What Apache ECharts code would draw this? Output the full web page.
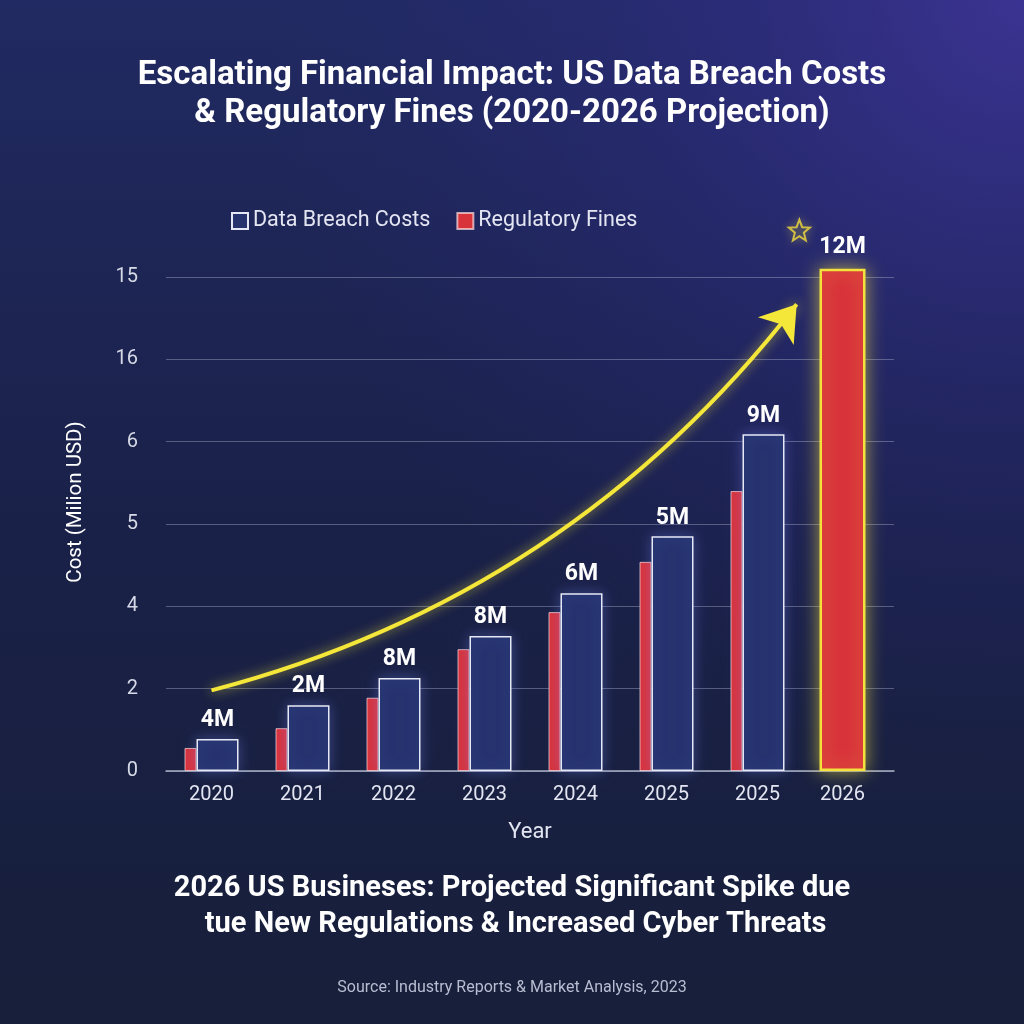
<!DOCTYPE html>
<html>
<head>
<meta charset="utf-8">
<script src="https://cdn.jsdelivr.net/npm/echarts@6/dist/echarts.min.js"></script>
<style>
  html, body { margin: 0; padding: 0; background: #181f3a; }
  #chart { width: 1024px; height: 1024px; }
</style>
</head>
<body>
<div id="chart"></div>
<script>
// categories as printed on the x axis (2025 appears twice in the source)
const years = ['2020', '2021', '2022', '2023', '2024', '2025', '2025', '2026'];
// y axis tick labels, bottom to top, as printed (evenly spaced ticks)
const yTickLabels = ['0', '2', '4', '5', '6', '16', '15'];
// bar heights, in tick units of that axis
const breachCosts = [0.39, 0.80, 1.13, 1.64, 2.16, 2.85, 4.09, '-'];
const breachLabels = ['4M', '2M', '8M', '8M', '6M', '5M', '9M', ''];
const fines = [0.28, 0.52, 0.89, 1.48, 1.93, 2.54, 3.40, '-'];
const spike2026 = ['-', '-', '-', '-', '-', '-', '-', 6.10];
const spikeLabel = '12M';
// trend arrow, from / to (category index, tick units)
const trendStart = [0, 0.98];
const trendEnd = [6.43, 5.67];
const starPos = [6.46, 6.57];

const starPath = 'path://M12,1 L14.9,8.6 L23,9 L16.7,14.1 L18.8,22 L12,17.6 L5.2,22 L7.3,14.1 L1,9 L9.1,8.6 Z';

let chart = echarts.init(document.getElementById('chart'));

const textColor = '#e3e6f2';

chart.setOption({
  backgroundColor: {
    type: 'linear', x: 0, y: 0, x2: 0, y2: 1,
    colorStops: [
      { offset: 0, color: '#212a62' },
      { offset: 0.5, color: '#1a2149' },
      { offset: 1, color: '#171f3a' }
    ]
  },
  graphic: [
    {
      // purple glow in the top right corner
      type: 'rect',
      left: 0, top: 0, z: -10, silent: true,
      shape: { width: 1024, height: 1024 },
      style: {
        fill: {
          type: 'radial', x: 1, y: 0, r: 0.75,
          colorStops: [
            { offset: 0, color: 'rgba(62,52,150,0.9)' },
            { offset: 0.5, color: 'rgba(50,45,140,0.35)' },
            { offset: 1, color: 'rgba(40,40,120,0)' }
          ]
        }
      }
    }
  ],
  textStyle: { fontFamily: 'Roboto' },
  title: [
    {
      text: 'Escalating Financial Impact: US Data Breach Costs\n& Regulatory Fines (2020-2026 Projection)',
      left: 'center',
      top: 52,
      textStyle: { color: '#ffffff', fontSize: 33, fontWeight: 'bold', lineHeight: 38 }
    },
    {
      text: '2026 US Busineses: Projected Significant Spike due\n tue New Regulations & Increased Cyber Threats',
      left: 'center',
      top: 866,
      textStyle: { color: '#ffffff', fontSize: 29, fontWeight: 'bold', lineHeight: 36 }
    },
    {
      text: 'Source: Industry Reports & Market Analysis, 2023',
      left: 'center',
      top: 975,
      textStyle: { color: '#b9bdd2', fontSize: 16, fontWeight: 'normal' }
    }
  ],
  legend: {
    data: ['Data Breach Costs', 'Regulatory Fines'],
    top: 205,
    left: 226,
    icon: 'rect',
    itemWidth: 16,
    itemHeight: 16,
    itemGap: 26,
    textStyle: { color: textColor, fontSize: 21.5 }
  },
  grid: { left: 166, right: 130, top: 277, bottom: 253 },
  xAxis: [
    {
      type: 'category',
      data: years,
      name: 'Year',
      nameLocation: 'middle',
      nameGap: 50,
      nameTextStyle: { color: textColor, fontSize: 22 },
      axisLine: { lineStyle: { color: '#a9aec4', width: 1.5 } },
      axisTick: { length: 5, lineStyle: { color: '#a9aec4' } },
      axisLabel: {
        color: textColor, fontSize: 20, margin: 14, interval: 0,
        formatter: (v, i) => i === years.length - 1 ? '{s|' + v + '}' : v,
        rich: { s: { color: textColor, fontSize: 20, padding: [0, 12, 0, 0] } }
      }
    },
    { type: 'category', data: years, show: false },
    { type: 'value', min: -0.5, max: 7.5, show: false }
  ],
  yAxis: {
    type: 'value',
    min: 0,
    max: 6,
    interval: 1,
    name: 'Cost (Milion USD)',
    nameLocation: 'middle',
    nameGap: 80,
    nameRotate: 90,
    nameTextStyle: { color: '#ffffff', fontSize: 20.5, padding: [0, 0, 0, 44] },
    axisLine: { show: false },
    axisTick: { show: false },
    axisLabel: {
      color: '#d6d9e6', fontSize: 20, margin: 28,
      formatter: (v) => yTickLabels[Math.round(v)]
    },
    splitLine: { lineStyle: { color: 'rgba(200,205,230,0.35)', width: 1 } }
  },
  series: [
    {
      name: 'Regulatory Fines',
      type: 'bar',
      xAxisIndex: 0,
      barWidth: 12,
      barGap: '0%',
      data: fines,
      itemStyle: { color: '#d8323b', borderColor: 'rgba(255,225,225,0.7)', borderWidth: 1 }
    },
    {
      name: 'Data Breach Costs',
      type: 'bar',
      xAxisIndex: 0,
      barWidth: 42,
      barGap: '0%',
      data: breachCosts,
      itemStyle: {
        color: '#26336f', borderColor: '#e6e9f5', borderWidth: 1.5,
        shadowBlur: 14, shadowColor: 'rgba(120,140,255,0.35)'
      },
      label: {
        show: true,
        position: 'top',
        distance: 7,
        color: '#ffffff',
        fontSize: 23,
        fontWeight: 'bold',
        formatter: (p) => breachLabels[p.dataIndex]
      }
    },
    {
      name: 'Spike 2026',
      type: 'bar',
      xAxisIndex: 1,
      barWidth: 46,
      barGap: '0%',
      clip: false,
      data: spike2026,
      itemStyle: {
        color: '#d8323b', borderColor: '#f3e23c', borderWidth: 2.5,
        shadowBlur: 18, shadowColor: 'rgba(250,230,60,0.6)'
      },
      label: {
        show: true,
        position: 'top',
        distance: 10,
        color: '#ffffff',
        fontSize: 23,
        fontWeight: 'bold',
        formatter: () => spikeLabel
      }
    },
    {
      // empty slot so the 2026 bar sits a little left of centre
      name: 'pad',
      type: 'bar',
      xAxisIndex: 1,
      barWidth: 12,
      barGap: '0%',
      data: []
    },
    {
      name: 'trend',
      type: 'lines',
      coordinateSystem: 'cartesian2d',
      xAxisIndex: 2,
      yAxisIndex: 0,
      symbol: ['none', 'arrow'],
      symbolSize: [0, 34],
      lineStyle: {
        color: '#f5e63a', width: 4, curveness: -0.17, opacity: 1,
        shadowBlur: 12, shadowColor: 'rgba(245,230,58,0.7)'
      },
      data: [{ coords: [trendStart, trendEnd] }],
      z: 5
    },
    {
      name: 'star',
      type: 'scatter',
      xAxisIndex: 2,
      yAxisIndex: 0,
      clip: false,
      symbol: starPath,
      symbolSize: 21,
      itemStyle: {
        color: 'rgba(0,0,0,0)', borderColor: '#f2dc3c', borderWidth: 2,
        shadowBlur: 8, shadowColor: 'rgba(245,230,58,0.6)'
      },
      data: [starPos]
    }
  ]
});
</script>
</body>
</html>
